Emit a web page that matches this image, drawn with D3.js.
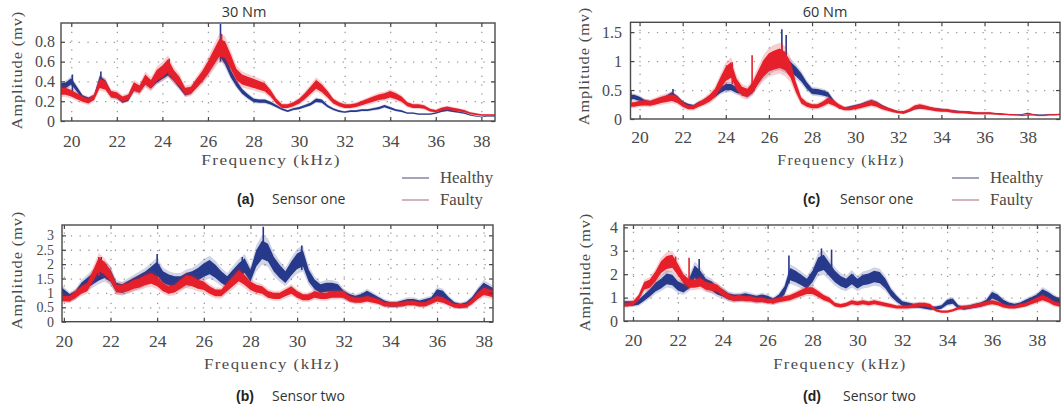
<!DOCTYPE html>
<html>
<head>
<meta charset="utf-8">
<script src="https://cdn.jsdelivr.net/npm/d3@7"></script>
<style>
  body { margin: 0; background: #fff; }
  svg text { fill: #4a4a4a; }
  .tick text { font-family: "Liberation Serif", serif; font-size: 16px; fill: #4a4a4a; }
  .small .tick text { font-size: 14px; }
  .serif { font-family: "Liberation Serif", serif; font-size: 15px; }
  .sans { font-family: "Open Sans", sans-serif; font-size: 14px; fill: #333; }
  .bold { font-family: "Liberation Sans", Arial, sans-serif; font-size: 14px; font-weight: bold; fill: #222; }
</style>
</head>
<body>
<svg id="chart" width="1062" height="412"></svg>
<script>
// sample frequencies (kHz), one every 0.25 kHz
var freq = d3.range(19.5, 39.51, 0.25);

// (a) 30 Nm, sensor one
var a_healthy = [0.35,0.36,
  0.40,0.32,0.24,0.22, 0.24,0.42,0.38,0.27, 0.25,0.20,0.22,0.33, 0.32,0.40,0.36,0.42,
  0.46,0.50,0.44,0.36, 0.28,0.30,0.38,0.44, 0.52,0.62,0.72,0.62, 0.48,0.38,0.30,0.25,
  0.21,0.20,0.20,0.18, 0.15,0.12,0.10,0.12, 0.13,0.15,0.17,0.21, 0.20,0.15,0.12,0.10,
  0.09,0.10,0.10,0.11, 0.11,0.12,0.13,0.15, 0.13,0.11,0.10,0.08, 0.08,0.07,0.07,0.07,
  0.08,0.10,0.11,0.10, 0.09,0.08,0.06,0.05, 0.04,0.05,0.05,0.05, 0.05,0.05,0.05];
var a_faulty = [0.30,0.30,
  0.28,0.25,0.22,0.20, 0.24,0.38,0.36,0.27, 0.26,0.22,0.24,0.35, 0.32,0.42,0.37,0.46,
  0.50,0.56,0.46,0.40, 0.30,0.31,0.38,0.45, 0.54,0.64,0.74,0.72, 0.60,0.47,0.42,0.40,
  0.38,0.36,0.34,0.28, 0.20,0.15,0.15,0.17, 0.20,0.25,0.31,0.37, 0.33,0.27,0.20,0.17,
  0.15,0.15,0.16,0.18, 0.20,0.22,0.24,0.25, 0.27,0.25,0.22,0.17, 0.15,0.15,0.14,0.11,
  0.10,0.12,0.13,0.12, 0.11,0.10,0.08,0.07, 0.06,0.06,0.06,0.06, 0.06,0.06,0.06];
var a_healthySpikes = [[20.05,0.30,0.47],[21.3,0.38,0.50],[26.55,0.60,0.98]];
var a_faultySpikes = [[24.3,0.45,0.63],[26.6,0.65,0.88]];
var a_yTicks = [0, 0.2, 0.4, 0.6, 0.8];

// (b) 30 Nm, sensor two
var b_healthy = [1.15,1.15,
  1.00,0.85,0.95,1.20, 1.35,1.50,1.65,1.75, 1.60,1.20,1.15,1.25, 1.35,1.45,1.55,1.70,
  1.85,1.55,1.45,1.40, 1.40,1.50,1.55,1.65, 1.80,1.90,1.75,1.55, 1.40,1.60,1.80,1.95,
  1.60,2.20,2.50,2.40, 2.00,1.75,1.55,1.85, 2.10,2.20,1.60,1.30, 1.15,1.20,1.20,1.15,
  0.95,0.85,0.80,0.85, 0.95,0.85,0.75,0.65, 0.60,0.60,0.65,0.70, 0.70,0.65,0.70,0.75,
  1.00,0.95,0.75,0.60, 0.55,0.60,0.75,1.00, 1.20,1.10,1.00,1.00, 1.00,1.00,1.00];
var b_faulty = [0.90,0.90,
  0.80,0.80,0.95,1.10, 1.20,1.60,2.00,1.85, 1.60,1.15,1.15,1.20, 1.30,1.35,1.45,1.50,
  1.40,1.20,1.10,1.15, 1.30,1.45,1.40,1.30, 1.25,1.10,1.00,1.00, 1.20,1.40,1.60,1.45,
  1.25,1.15,1.10,0.95, 0.90,0.90,1.00,1.10, 0.95,0.85,0.85,0.95, 0.90,0.90,0.95,0.95,
  0.95,0.80,0.75,0.75, 0.80,0.75,0.70,0.60, 0.60,0.60,0.60,0.65, 0.65,0.60,0.60,0.70,
  0.80,0.75,0.65,0.55, 0.55,0.55,0.70,0.90, 1.05,1.00,0.95,0.95, 0.95,0.95,0.95];
var b_healthySpikes = [[28.55,2.2,3.3],[24.0,1.5,2.35],[30.2,1.8,2.65],[21.6,1.5,2.25],[27.65,1.7,2.25]];
var b_faultySpikes = [[21.5,1.6,2.25]];
var b_yTicks = [0, 0.5, 1, 1.5, 2, 2.5, 3];

// (c) 60 Nm, sensor one
var c_healthy = [0.38,0.38,
  0.35,0.30,0.28,0.30, 0.33,0.37,0.42,0.36, 0.28,0.24,0.22,0.27, 0.30,0.35,0.42,0.50,
  0.55,0.55,0.50,0.48, 0.42,0.50,0.68,0.82, 0.92,0.98,1.00,0.95, 0.90,0.82,0.72,0.58,
  0.48,0.47,0.45,0.42, 0.30,0.20,0.18,0.20, 0.22,0.24,0.27,0.30, 0.27,0.22,0.18,0.15,
  0.12,0.10,0.14,0.18, 0.20,0.19,0.18,0.17, 0.16,0.15,0.14,0.13, 0.12,0.12,0.11,0.10,
  0.10,0.10,0.09,0.09, 0.08,0.08,0.07,0.08, 0.10,0.08,0.07,0.07, 0.08,0.08,0.08];
var c_faulty = [0.25,0.25,
  0.27,0.28,0.27,0.30, 0.33,0.35,0.37,0.33, 0.25,0.20,0.20,0.25, 0.30,0.36,0.45,0.62,
  0.78,0.85,0.60,0.48, 0.45,0.55,0.72,0.88, 0.98,1.02,1.05,1.00, 0.85,0.55,0.32,0.25,
  0.22,0.22,0.26,0.32, 0.28,0.22,0.18,0.18, 0.20,0.22,0.25,0.28, 0.25,0.20,0.17,0.14,
  0.12,0.12,0.15,0.20, 0.22,0.20,0.18,0.16, 0.15,0.15,0.13,0.12, 0.12,0.11,0.10,0.10,
  0.10,0.10,0.09,0.08, 0.08,0.07,0.07,0.06, 0.07,0.07,0.06,0.06, 0.07,0.07,0.08];
var c_healthySpikes = [[26.6,0.9,1.55],[26.8,0.85,1.45],[21.55,0.35,0.52],[19.6,0.3,0.48]];
var c_faultySpikes = [[25.22,0.45,1.1],[24.3,0.6,0.98],[26.6,0.9,1.3]];
var c_yTicks = [0, 0.5, 1, 1.5];

// (d) 60 Nm, sensor two
var d_healthy = [0.75,0.75,
  0.75,0.80,1.00,1.20, 1.45,1.60,1.80,1.75, 1.50,1.40,1.60,2.10, 1.90,1.60,1.50,1.30,
  1.20,1.05,1.00,1.00, 1.05,1.00,0.95,1.00, 0.95,0.85,1.00,1.30, 2.00,1.90,1.75,1.60,
  1.90,2.40,2.50,2.20, 1.90,1.70,1.60,1.80, 1.60,1.75,1.80,1.90, 1.85,1.60,1.20,0.95,
  0.75,0.70,0.65,0.65, 0.60,0.55,0.55,0.60, 0.80,0.85,0.60,0.55, 0.60,0.65,0.70,0.80,
  1.10,1.00,0.80,0.70, 0.65,0.70,0.80,0.90, 1.00,1.20,1.10,0.95, 0.85,0.85,0.85];
var d_faulty = [0.70,0.70,
  0.75,1.00,1.50,1.60, 1.90,2.30,2.50,2.55, 2.20,1.80,1.60,1.60, 1.65,1.50,1.45,1.40,
  1.20,1.05,0.95,1.00, 0.95,0.95,0.90,0.90, 0.85,0.85,0.90,0.95, 1.00,1.10,1.20,1.30,
  1.30,1.15,1.00,0.90, 0.70,0.65,0.70,0.80, 0.75,0.80,0.75,0.80, 0.75,0.70,0.65,0.60,
  0.60,0.60,0.65,0.70, 0.70,0.65,0.45,0.40, 0.40,0.45,0.55,0.60, 0.60,0.65,0.70,0.75,
  0.80,0.75,0.65,0.60, 0.60,0.65,0.70,0.80, 0.90,1.00,0.90,0.75, 0.70,0.70,0.70];
var d_healthySpikes = [[28.4,2.2,3.1],[28.85,2.0,3.05],[26.95,1.6,2.8],[22.95,1.5,2.65]];
var d_faultySpikes = [[21.9,2.2,2.75],[22.5,1.6,2.7]];
var d_yTicks = [0, 1, 2, 3, 4];

var xTicks = [20, 22, 24, 26, 28, 30, 32, 34, 36, 38];
var seriesNames = ["Healthy", "Faulty"];
var torques = ["30 Nm", "60 Nm"];
var captions = [["(a)", "Sensor one"], ["(b)", "Sensor two"], ["(c)", "Sensor one"], ["(d)", "Sensor two"]];

var BLUE = "#27398a", RED = "#e5202a";

var panels = [
  { data: [a_healthy, a_faulty], spikes: [a_healthySpikes, a_faultySpikes], spread: [0.08, 0.12], yTicks: a_yTicks,
    box: [61, 23, 495, 121], xDom: [19.55, 38.6], yDom: [0, 0.99], xPad: 15, yPad: 6, stretch: 1.15, small: false,
    yLab: [22, 70], xLab: [271, 165], cap: [237, 272, 204], fmt: d3.format(".1~f") },
  { data: [b_healthy, b_faulty], spikes: [b_healthySpikes, b_faultySpikes], spread: [0.13, 0.12], yTicks: b_yTicks,
    box: [62, 225, 493, 321.7], xDom: [19.92, 38.4], yDom: [0, 3.36], xPad: 14, yPad: 8, stretch: 1.12, small: true,
    yLab: [22, 270], xLab: [272, 369], cap: [236, 272, 401], fmt: d3.format(".1~f") },
  { data: [c_healthy, c_faulty], spikes: [c_healthySpikes, c_faultySpikes], spread: [0.1, 0.16], yTicks: c_yTicks,
    box: [630.5, 22.3, 1060, 119], xDom: [19.58, 39.5], yDom: [0, 1.67], xPad: 12.5, yPad: 8.5, stretch: 1.05, small: false,
    yLab: [589, 66], xLab: [841, 165], cap: [803, 840, 204], fmt: d3.format(".1~f") },
  { data: [d_healthy, d_faulty], spikes: [d_healthySpikes, d_faultySpikes], spread: [0.13, 0.11], yTicks: d_yTicks,
    box: [624, 225, 1060, 321], xDom: [19.6, 39.03], yDom: [0, 4.1], xPad: 14, yPad: 6, stretch: 1.1, small: false,
    yLab: [590, 272], xLab: [840, 369], cap: [803, 843, 401], fmt: d3.format("d") }
];

var svg = d3.select("#chart");

panels.forEach(function(p, pi) {
  var x0 = p.box[0], y0 = p.box[1], x1 = p.box[2], y1 = p.box[3];
  var x = d3.scaleLinear().domain(p.xDom).range([x0, x1]);
  var y = d3.scaleLinear().domain(p.yDom).range([y1, y0]);
  var w = x1 - x0, h = y1 - y0;
  var g = svg.append("g");

  // dotted grid
  g.append("g").attr("transform", "translate(0," + y1 + ")")
    .call(d3.axisBottom(x).tickValues(xTicks).tickSize(-h).tickFormat(""))
    .call(function(s) { s.select(".domain").remove(); })
    .selectAll("line").attr("stroke", "#9a9a9a").attr("stroke-width", 1.3).attr("stroke-dasharray", "1.3,7.5");
  g.append("g").attr("transform", "translate(" + x0 + ",0)")
    .call(d3.axisLeft(y).tickValues(p.yTicks.filter(function(v) { return v > 0; })).tickSize(-w).tickFormat(""))
    .call(function(s) { s.select(".domain").remove(); })
    .selectAll("line").attr("stroke", "#9a9a9a").attr("stroke-width", 1.3).attr("stroke-dasharray", "1.3,7.5");

  // traces
  var clipId = "clip" + pi;
  svg.append("clipPath").attr("id", clipId).append("rect")
    .attr("x", x0).attr("y", y0).attr("width", w).attr("height", h);
  var plot = g.append("g").attr("clip-path", "url(#" + clipId + ")");
  var colors = [BLUE, RED];
  p.data.forEach(function(vals, si) {
    var r = p.spread[si], col = colors[si];
    var halo = d3.area()
      .x(function(d, i) { return x(freq[i]); })
      .y0(function(d) { return y(d * (1 - r * 1.6)); })
      .y1(function(d) { return y(d * (1 + r * 1.6)); });
    var band = d3.area()
      .x(function(d, i) { return x(freq[i]); })
      .y0(function(d) { return y(d * (1 - r)); })
      .y1(function(d) { return y(d * (1 + r)); });
    plot.append("path").datum(vals).attr("d", halo).attr("fill", col).attr("opacity", 0.22);
    plot.append("path").datum(vals).attr("d", band).attr("fill", col);
    plot.selectAll(null).data(p.spikes[si]).enter().append("line")
      .attr("x1", function(d) { return x(d[0]); }).attr("x2", function(d) { return x(d[0]); })
      .attr("y1", function(d) { return y(d[1]); }).attr("y2", function(d) { return y(d[2]); })
      .attr("stroke", col).attr("stroke-width", 1.6);
  });

  // axes, ticks pointing inward on all four sides
  var bx = g.append("g").attr("transform", "translate(0," + y1 + ")")
    .call(d3.axisBottom(x).tickValues(xTicks).tickSize(-4).tickPadding(p.xPad).tickFormat(d3.format("d")));
  var lx = g.append("g").attr("transform", "translate(" + x0 + ",0)").classed("small", p.small)
    .call(d3.axisLeft(y).tickValues(p.yTicks).tickSize(-4).tickPadding(p.yPad).tickFormat(p.fmt));
  g.append("g").attr("transform", "translate(0," + y0 + ")")
    .call(d3.axisTop(x).tickValues(xTicks).tickSize(-4).tickFormat(""));
  g.append("g").attr("transform", "translate(" + x1 + ",0)")
    .call(d3.axisRight(y).tickValues(p.yTicks).tickSize(-4).tickFormat(""));
  g.selectAll(".domain").remove();
  g.selectAll(".tick line").filter(function() { return d3.select(this).attr("stroke-dasharray") == null; })
    .attr("stroke", "#444").attr("stroke-width", 1.2);
  bx.selectAll("text").attr("transform", "scale(1.1,1)");

  g.append("rect").attr("x", x0).attr("y", y0).attr("width", w).attr("height", h)
    .attr("fill", "none").attr("stroke", "#4a4a4a").attr("stroke-width", 1.4);

  // axis titles
  g.append("text").attr("class", "serif").style("letter-spacing", "0.9px")
    .attr("transform", "translate(" + p.yLab[0] + "," + p.yLab[1] + ") rotate(-90) scale(1.08,1)")
    .attr("text-anchor", "middle").text("Amplitude (mv)");
  g.append("text").attr("class", "serif").style("letter-spacing", "1.3px")
    .attr("transform", "translate(" + p.xLab[0] + "," + p.xLab[1] + ") scale(" + p.stretch + ",1)")
    .attr("text-anchor", "middle").text("Frequency (kHz)");

  // caption
  g.append("text").attr("class", "bold").attr("x", p.cap[0]).attr("y", p.cap[2]).text(captions[pi][0]);
  g.append("text").attr("class", "sans").attr("x", p.cap[1]).attr("y", p.cap[2]).text(captions[pi][1]);
});

// torque titles
svg.append("text").attr("class", "sans").style("font-size", "14.5px").attr("x", 244).attr("y", 17)
  .attr("text-anchor", "middle").text(torques[0]);
svg.append("text").attr("class", "sans").style("font-size", "14.5px").attr("x", 825).attr("y", 17)
  .attr("text-anchor", "middle").text(torques[1]);

// legends next to the sensor-one captions
var legendColors = ["#8b8fa9", "#c9a2a7"];
[[402, 440], [952, 990]].forEach(function(pos) {
  seriesNames.forEach(function(name, i) {
    var ly = 178 + i * 22;
    svg.append("line").attr("x1", pos[0]).attr("x2", pos[0] + 27).attr("y1", ly).attr("y2", ly)
      .attr("stroke", legendColors[i]).attr("stroke-width", 1.6);
    svg.append("text").attr("class", "serif").style("font-size", "16px")
      .attr("transform", "translate(" + pos[1] + "," + (ly + 5) + ") scale(1.05,1)").text(name);
  });
});
</script>
</body>
</html>
